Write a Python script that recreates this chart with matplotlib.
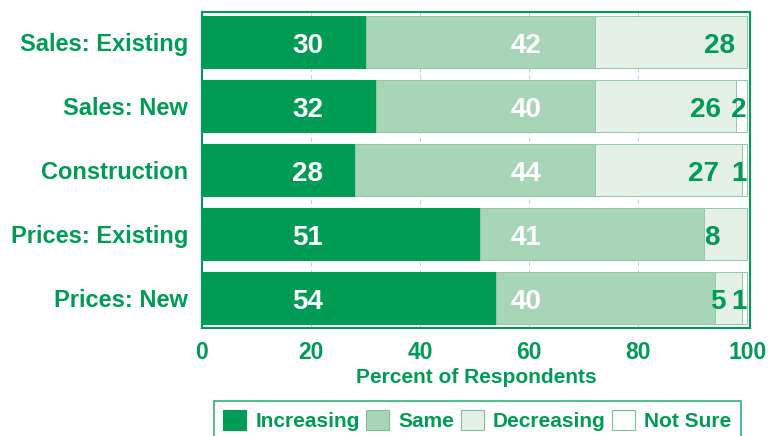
import matplotlib
matplotlib.use("Agg")
import matplotlib.pyplot as plt
from matplotlib.patches import Patch

categories = ["Sales: Existing", "Sales: New", "Construction", "Prices: Existing", "Prices: New"]
increasing = [30, 32, 28, 51, 54]
same = [42, 40, 44, 41, 40]
decreasing = [28, 26, 27, 8, 5]
not_sure = [0, 2, 1, 0, 1]
series_names = ["Increasing", "Same", "Decreasing", "Not Sure"]
xticks = [0, 20, 40, 60, 80, 100]

# label anchor positions (right edges of the "Decreasing" labels, in axis units)
dec_label_right = [97.8, 95.1, 94.9, 95.0, 96.0]

GREEN = "#009b55"
colors = ["#009b55", "#a8d5b8", "#e5f1e7", "#ffffff"]

plt.rcParams['font.family'] = ['Liberation Sans', 'DejaVu Sans']
fig = plt.figure(figsize=(7.68, 4.36), dpi=100)
ax = fig.add_axes([0.263, 0.2477, 0.7136, 0.7248])

ypos = list(range(len(categories)))
series = [increasing, same, decreasing, not_sure]
left = [0] * len(categories)
for s, (vals, c) in enumerate(zip(series, colors)):
    ax.barh(ypos, vals, left=left, height=0.81, color=c,
            edgecolor="#8ccca6" if s > 0 else c, linewidth=0.7, zorder=3)
    left = [l + v for l, v in zip(left, vals)]

LBL = dict(va="center_baseline", fontsize=20, fontweight="bold", zorder=5)
for i in ypos:
    ax.text(19.4, i + 0.02, str(increasing[i]), ha="center", color="white", **LBL)
    ax.text(59.4, i + 0.02, str(same[i]), ha="center", color="white", **LBL)
    ax.text(dec_label_right[i], i + 0.02, str(decreasing[i]), ha="right", color=GREEN, **LBL)
    if not_sure[i] > 0:
        ax.text(99.9, i + 0.02, str(not_sure[i]), ha="right", color=GREEN, **LBL)

ax.set_xlim(0, 100.5)
ax.set_ylim(len(categories) - 0.53, -0.47)
ax.set_yticks(ypos)
ax.set_yticklabels(categories, fontsize=17, fontweight="bold", color=GREEN)
ax.set_xticks(xticks)
ax.set_xticklabels([str(t) for t in xticks], fontsize=16.5, fontweight="bold", color=GREEN)
ax.tick_params(axis="both", length=0)
ax.tick_params(axis="y", pad=10)
ax.tick_params(axis="x", pad=9)
ax.set_xlabel("Percent of Respondents", fontsize=15, fontweight="bold", color=GREEN, labelpad=3)

for t in xticks[1:-1]:
    ax.axvline(t, color="#b5dcc4", linestyle=(0, (4, 3)), linewidth=0.8, zorder=1)

for sp in ax.spines.values():
    sp.set_color(GREEN)
    sp.set_linewidth(1.5)

handles = [Patch(facecolor=c, edgecolor=GREEN if k == 0 else "#7fbf97", linewidth=0.8)
           for k, c in enumerate(colors)]
leg = fig.legend(handles, series_names, loc="lower left", bbox_to_anchor=(0.265, -0.035),
                 ncol=4, frameon=True, fancybox=False, handlelength=1.1, handleheight=1.1,
                 handletextpad=0.45, columnspacing=0.3, borderpad=0.45,
                 prop={"family": "Liberation Sans", "weight": "bold", "size": 15})
leg.get_frame().set_edgecolor(GREEN)
leg.get_frame().set_linewidth(1.2)
for t in leg.get_texts():
    t.set_color(GREEN)

fig.savefig("out.png", dpi=100)
